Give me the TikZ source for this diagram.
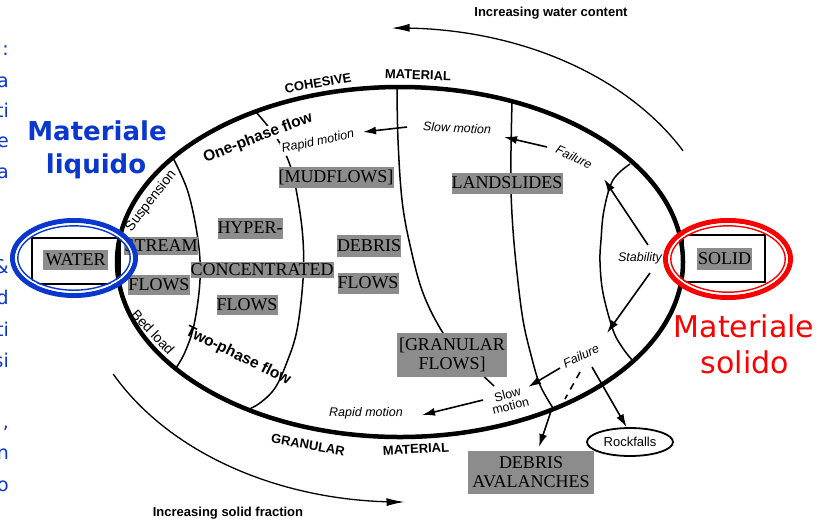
\documentclass[tikz,border=0pt]{standalone}
\usepackage{fontspec}
\setmainfont{Liberation Serif}
\setsansfont{Liberation Sans}
\newfontfamily\djv{DejaVu Sans}
\usetikzlibrary{arrows.meta,shapes.geometric}
\definecolor{myblue}{RGB}{10,55,205}
\definecolor{myred}{RGB}{250,0,0}
\begin{document}
\begin{tikzpicture}[x=1pt,y=-1pt,
  divline/.style={line width=1.5pt},
  arr/.style={-{Latex[length=13pt,width=8pt]}, line width=1.6pt},
  bigarr/.style={-{Latex[length=18pt,width=8pt]}, line width=1.3pt},
  gbox/.style={fill=black!45, inner sep=0pt, font=\fontsize{18}{19}\selectfont, align=center},
  lab/.style={font=\sffamily\itshape\fontsize{12.5}{14}\selectfont, inner sep=1pt},
  ulab/.style={font=\sffamily\fontsize{12.5}{14}\selectfont, inner sep=1pt, align=center},
  blab/.style={font=\sffamily\bfseries\fontsize{13}{15}\selectfont, inner sep=1pt},
  phlab/.style={font=\sffamily\bfseries\fontsize{15.5}{17}\selectfont, inner sep=0.5pt},
  slide/.style={font=\djv\fontsize{19}{22}\selectfont, text=myblue, anchor=base east, inner sep=0pt}]
\path[use as bounding box] (0,0) rectangle (834,523);
\clip (0,0) rectangle (834,523);

% outer arcs
\draw[bigarr] plot[domain=28.8:91.5, samples=60, smooth] ({400+323*cos(\x)}, {265-237*sin(\x)});
\draw[bigarr] plot[domain=207.4:270.8, samples=60, smooth] ({400+323*cos(\x)}, {265-237*sin(\x)});
\node[blab] (iwc) at (551,13) {Increasing water content};
\node[blab] (isf) at (228,513) {Increasing solid fraction};

% dividing lines
\draw[divline] plot[smooth, tension=0.6] coordinates {(173,158) (188,192) (198,240) (200,280) (194,325) (185,352) (176,368)};
\draw[divline] plot[smooth, tension=0.6] coordinates {(256,112) (276,137) (290,165) (298,200) (303,240) (303,280) (297,330) (287,362) (275,388) (260,403) (247,410)};
\draw[divline] plot[smooth, tension=0.6] coordinates {(397,88) (398,140) (402,200) (410,245) (423,293) (443,333) (465,360) (480,373) (494,386)};
\draw[divline] plot[smooth, tension=0.6] coordinates {(512,101) (511,150) (511,190) (513,230) (517,273) (523,320) (531,355) (540,385) (553,408)};
\draw[divline] plot[smooth, tension=0.6] coordinates {(630,164) (613,180) (604,210) (601,240) (600,262) (603,293) (613,330) (622,347) (632,360)};

% labels that sit over lines
\node[phlab, fill=white, rotate=21] (one) at (258,138) {One-phase flow};
\node[lab, fill=white, rotate=12] (rapid1) at (318,142) {Rapid motion};

% main ellipse
\draw[line width=4.5pt] (400,262) ellipse [x radius=283, y radius=175];

% border labels
\node[blab, rotate=10] (coh) at (318,83) {COHESIVE};
\node[blab, rotate=-2] (mat1) at (418,75) {MATERIAL};
\node[blab, rotate=-10] (gra) at (308,445) {GRANULAR};
\node[blab, rotate=3] (mat2) at (416,449) {MATERIAL};
\node[phlab, rotate=-26] (two) at (238,356) {Two-phase flow};
\node[ulab, font=\sffamily\fontsize{14}{16}\selectfont, rotate=52] (susp) at (151,201) {Suspension};
\node[ulab, font=\sffamily\fontsize{14}{16}\selectfont, rotate=-47] (bed) at (153,332) {Bed load};

% gray boxes
\node[gbox, minimum width=112pt, minimum height=21pt] (mud) at (336,177) {[MUDFLOWS]};
\node[gbox, minimum width=111pt, minimum height=21pt] (land) at (507,183) {LANDSLIDES};
\node[gbox, minimum width=73pt, minimum height=18pt] (stream) at (161,246) {STREAM};
\node[gbox, minimum width=58pt, minimum height=20pt] (sflows) at (159,285) {FLOWS};
\node[gbox, minimum width=65pt, minimum height=21pt] (hyper) at (250,228) {HYPER-};
\node[gbox, minimum width=143pt, minimum height=16pt] (conc) at (262,270) {CONCENTRATED};
\node[gbox, minimum width=59pt, minimum height=20pt] (hflows) at (247,305) {FLOWS};
\node[gbox, minimum width=63pt, minimum height=22pt] (debris) at (369,246) {DEBRIS};
\node[gbox, minimum width=60pt, minimum height=21pt] (dflows) at (368,283) {FLOWS};
\node[gbox, minimum width=110pt, minimum height=44pt] (gran) at (452,355) {[GRANULAR\\FLOWS]};
\node[gbox, minimum width=126pt, minimum height=43pt] (aval) at (531,472) {DEBRIS\\AVALANCHES};

% motion labels
\node[lab, rotate=-3] (slow1) at (457,128) {Slow motion};
\node[lab, rotate=-25] (fail1) at (574,157) {Failure};
\node[lab] (stab) at (640,258) {Stability};
\node[lab, rotate=25] (fail2) at (581,356) {Failure};
\node[ulab, rotate=15] (slow2) at (509,400) {Slow\\[-2pt]motion};
\node[lab] (rapid2) at (366,413) {Rapid motion};

% arrows
\coordinate (a1s) at (407,127); \coordinate (a1e) at (363,132);
\draw[arr] (a1s) -- (a1e);
\coordinate (a2s) at (547,147); \coordinate (a2e) at (504,137);
\draw[arr] (a2s) -- (a2e);
\coordinate (a3s) at (648,245); \coordinate (a3e) at (604,179);
\draw[arr] (a3s) -- (a3e);
\coordinate (a4s) at (650,273); \coordinate (a4e) at (607,333);
\draw[arr] (a4s) -- (a4e);
\coordinate (a5s) at (560,368); \coordinate (a5e) at (528,387);
\draw[arr] (a5s) -- (a5e);
\coordinate (a6s) at (483,400); \coordinate (a6e) at (422,415);
\draw[arr] (a6s) -- (a6e);
\coordinate (d1) at (580,372); \coordinate (d2) at (565,399);
\draw[line width=1.6pt, dash pattern=on 7pt off 6pt] (d1) -- (d2);
\coordinate (a7s) at (551,411); \coordinate (a7e) at (539,447);
\draw[arr] (a7s) -- (a7e);
\node[draw, ellipse, line width=1.8pt, minimum width=86pt, minimum height=28pt, inner sep=0pt, font=\sffamily\fontsize{13}{15}\selectfont] (rock) at (630,442) {Rockfalls};
\coordinate (a8s) at (592,367);
\draw[arr] (a8s) -- (rock.103);

% WATER and SOLID
\node[draw, line width=1.8pt, minimum width=88pt, minimum height=46pt, inner sep=0pt] (waterbox) at (76,261) {};
\node[gbox, minimum width=65pt, minimum height=20pt] (water) at (75.5,260) {WATER};
\node[draw, line width=1.8pt, minimum width=82pt, minimum height=47pt, inner sep=0pt] (solidbox) at (724,258.5) {};
\node[gbox, minimum width=55pt, minimum height=22pt] (solid) at (724.5,259) {SOLID};

% highlight ellipses
\draw[myblue, line width=5pt] (74,258) ellipse [x radius=61.5, y radius=37.5];
\draw[white, line width=1.6pt] (74,258) ellipse [x radius=58, y radius=34];
\draw[myblue, line width=1.4pt] (74,258) ellipse [x radius=56.2, y radius=32.2];
\draw[myred, line width=5pt] (728,259) ellipse [x radius=62.5, y radius=38.5];
\draw[white, line width=1.6pt] (728,259) ellipse [x radius=59, y radius=35];
\draw[myred, line width=1.4pt] (728,259) ellipse [x radius=57.2, y radius=33.2];

% slide texts
\node[font=\djv\bfseries\fontsize{26}{30}\selectfont, text=myblue, anchor=base, inner sep=0pt] (ml1) at (97,140) {Materiale};
\node[font=\djv\bfseries\fontsize{26}{30}\selectfont, text=myblue, anchor=base, inner sep=0pt] (ml2) at (96,173) {liquido};
\node[font=\djv\fontsize{30}{34}\selectfont, text=myred, anchor=base, inner sep=0pt] (ms1) at (744,337) {Materiale};
\node[font=\djv\fontsize{30}{34}\selectfont, text=myred, anchor=base, inner sep=0pt] (ms2) at (745,373) {solido};

% cut-off slide text at the left edge
\node[slide] (s1) at (9,55) {:};
\node[slide] (s2) at (9,87) {a};
\node[slide] (s3) at (9,117) {ti};
\node[slide] (s4) at (9,147) {e};
\node[slide] (s5) at (9,178) {a};
\node[slide] (s6) at (9,273) {\&};
\node[slide] (s7) at (9,304) {d};
\node[slide] (s8) at (9,336) {ti};
\node[slide] (s9) at (9,367) {si};
\node[slide] (s10) at (9,428) {,};
\node[slide] (s11) at (9,459) {n};
\node[slide] (s12) at (9,491) {o};
\end{tikzpicture}
\end{document}
